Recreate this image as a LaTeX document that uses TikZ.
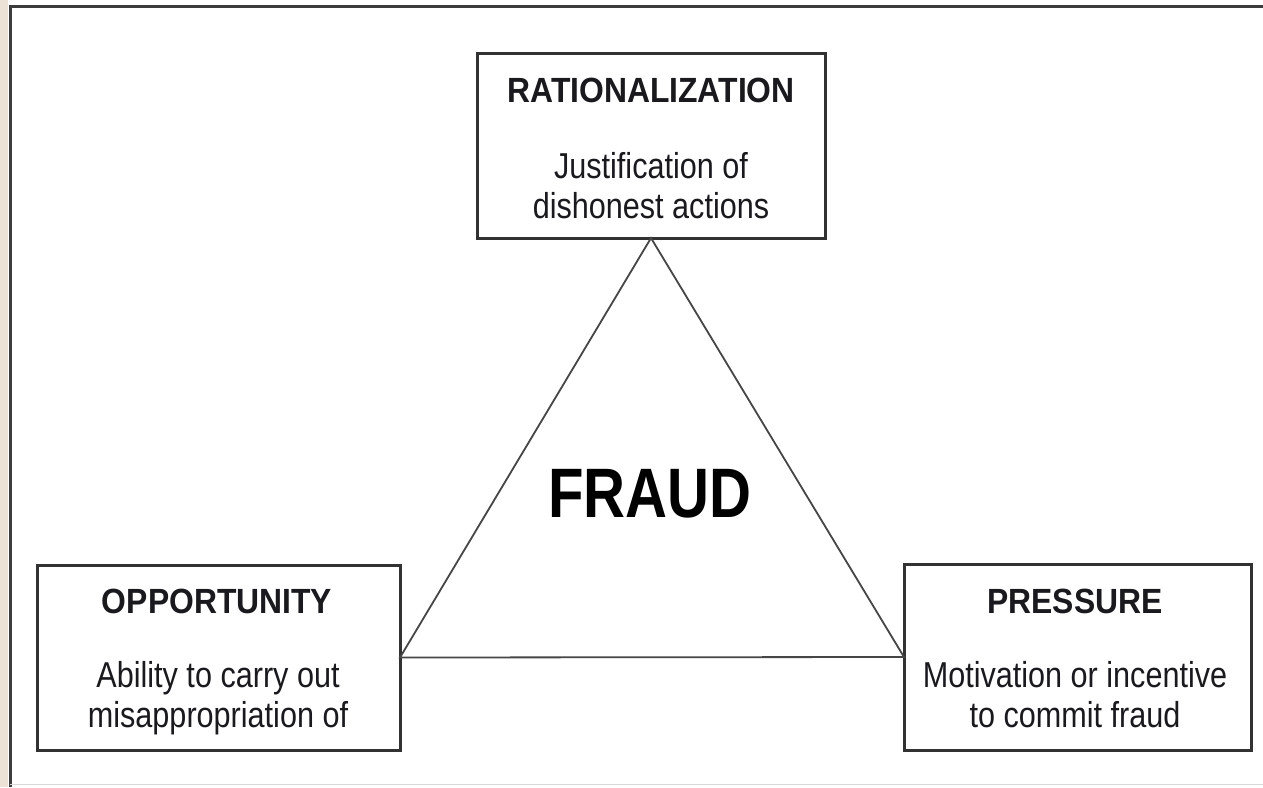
\documentclass[tikz,border=0pt]{standalone}
\usepackage{fontspec}
\setmainfont{Liberation Sans}
\newfontfamily\bodyfont[FakeStretch=0.85]{Liberation Sans}
\newfontfamily\headfont[FakeStretch=0.91]{Liberation Sans Bold}
\newfontfamily\bigfont[FakeStretch=0.83]{Liberation Sans Bold}
\definecolor{beige}{RGB}{236,227,214}
\definecolor{framegray}{RGB}{60,60,60}
\definecolor{boxgray}{RGB}{50,50,50}
\definecolor{linegray}{RGB}{70,70,70}
\definecolor{txt}{RGB}{25,25,30}
\begin{document}
\begin{tikzpicture}[x=1pt,y=-1pt,
  card/.style={draw=boxgray,line width=3pt,fill=white,inner sep=0pt,outer sep=0pt},
  head/.style={inner sep=0pt,anchor=base,text=txt,font=\headfont\fontsize{35}{40}\selectfont},
  body/.style={inner sep=0pt,anchor=base,text=txt,align=center,font=\bodyfont\fontsize{36}{40}\selectfont},
  edge/.style={draw=linegray,line width=1.8pt}]
\useasboundingbox (0,0) rectangle (1263,787);
\fill[white] (0,0) rectangle (1263,787);
\fill[beige] (0,0) rectangle (8,787);
\draw[framegray,line width=3pt] (10,787) -- (10,6) -- (1263,6);
\draw[gray!30,line width=1pt] (10,784) -- (1263,784);
% boxes
\node[card,minimum width=348pt,minimum height=185pt] (rat) at (651,145.5) {};
\node[card,minimum width=363pt,minimum height=185pt] (opp) at (218.5,657.5) {};
\node[card,minimum width=347pt,minimum height=186pt] (pres) at (1077.5,657) {};
% triangle
\draw[edge,line join=miter] (rat.south) -- (opp.east) -- (pres.west) -- cycle;
% texts
\node[head] (ratT) at (651,102) {RATIONALIZATION};
\node[body] (ratB) at (651,218) {Justification of\\dishonest actions};
\node[head] (oppT) at (217,613) {OPPORTUNITY};
\node[body] (oppB) at (218,727) {Ability to carry out\\misappropriation of};
\node[head] (presT) at (1075,613) {PRESSURE};
\node[body] (presB) at (1075,727) {Motivation or incentive\\to commit fraud};
\node[inner sep=0pt,anchor=base,text=black,font=\bigfont\fontsize{70}{80}\selectfont] (fraud) at (650,517) {FRAUD};
\end{tikzpicture}
\end{document}
